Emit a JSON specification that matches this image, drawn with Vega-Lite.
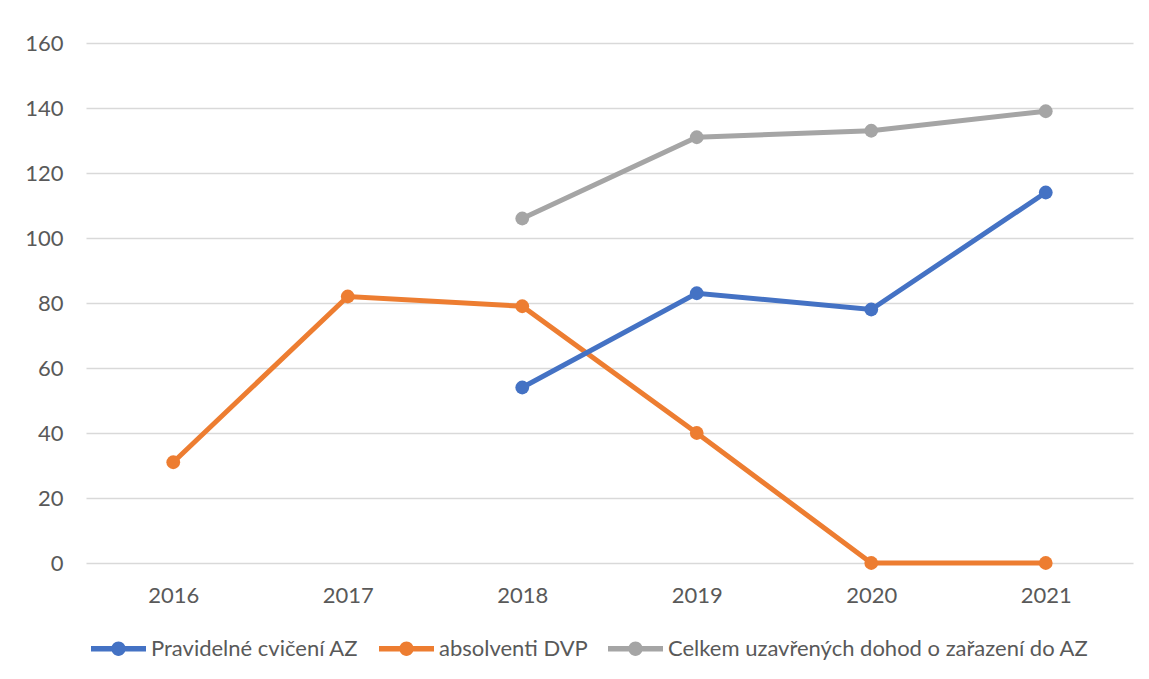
{
  "$schema": "https://vega.github.io/schema/vega-lite/v6.json",
  "width": 1047,
  "height": 520,
  "autosize": {"type": "none"},
  "padding": {"left": 86, "top": 43, "right": 16, "bottom": 116},
  "background": "white",
  "config": {
    "view": {"stroke": null},
    "font": "Lato",
    "axis": {"labelFont": "Lato", "labelFontSize": 22, "labelColor": "#595959"},
    "legend": {"labelFont": "Lato", "labelFontSize": 22, "labelColor": "#595959", "labelLimit": 0}
  },
  "data": {
    "values": [
      {"rok": "2016", "rada": "absolventi DVP", "hodnota": 31},
      {"rok": "2017", "rada": "absolventi DVP", "hodnota": 82},
      {"rok": "2018", "rada": "absolventi DVP", "hodnota": 79},
      {"rok": "2019", "rada": "absolventi DVP", "hodnota": 40},
      {"rok": "2020", "rada": "absolventi DVP", "hodnota": 0},
      {"rok": "2021", "rada": "absolventi DVP", "hodnota": 0},
      {"rok": "2018", "rada": "Pravidelné cvičení AZ", "hodnota": 54},
      {"rok": "2019", "rada": "Pravidelné cvičení AZ", "hodnota": 83},
      {"rok": "2020", "rada": "Pravidelné cvičení AZ", "hodnota": 78},
      {"rok": "2021", "rada": "Pravidelné cvičení AZ", "hodnota": 114},
      {"rok": "2018", "rada": "Celkem uzavřených dohod o zařazení do AZ", "hodnota": 106},
      {"rok": "2019", "rada": "Celkem uzavřených dohod o zařazení do AZ", "hodnota": 131},
      {"rok": "2020", "rada": "Celkem uzavřených dohod o zařazení do AZ", "hodnota": 133},
      {"rok": "2021", "rada": "Celkem uzavřených dohod o zařazení do AZ", "hodnota": 139}
    ]
  },
  "mark": {"type": "line", "strokeWidth": 5, "point": {"filled": true, "size": 190, "opacity": 1}},
  "encoding": {
    "x": {
      "field": "rok",
      "type": "ordinal",
      "scale": {"type": "point", "padding": 0.5},
      "axis": {"title": null, "labelAngle": 0, "ticks": false, "domain": false, "labelPadding": 32, "labelBaseline": "middle"}
    },
    "y": {
      "field": "hodnota",
      "type": "quantitative",
      "scale": {"domain": [0, 160], "nice": false},
      "axis": {"title": null, "values": [0, 20, 40, 60, 80, 100, 120, 140, 160], "ticks": false, "domain": false, "labelPadding": 23, "gridColor": "#D9D9D9", "gridWidth": 1.3}
    },
    "color": {
      "field": "rada",
      "type": "nominal",
      "scale": {
        "domain": ["Pravidelné cvičení AZ", "absolventi DVP", "Celkem uzavřených dohod o zařazení do AZ"],
        "range": ["#4472C4", "#ED7D31", "#A5A5A5"]
      },
      "legend": {
        "title": null,
        "orient": "none",
        "direction": "horizontal",
        "legendX": 5,
        "legendY": 578,
        "padding": 0,
        "columnPadding": 20,
        "labelOffset": 5,
        "labelLimit": 0,
        "symbolSize": 3025,
        "symbolType": "M-1,-0.1 H-0.2 V0.1 H-1 Z M0.2,-0.1 H1 V0.1 H0.2 Z M0.26,0 A0.26,0.26 0 1 1 -0.26,0 A0.26,0.26 0 1 1 0.26,0 Z",
        "symbolStrokeWidth": 0,
        "encode": {
          "symbols": {"update": {"fill": {"scale": "color", "field": "value"}, "stroke": {"value": "transparent"}, "opacity": {"value": 1}}}
        }
      }
    }
  }
}
